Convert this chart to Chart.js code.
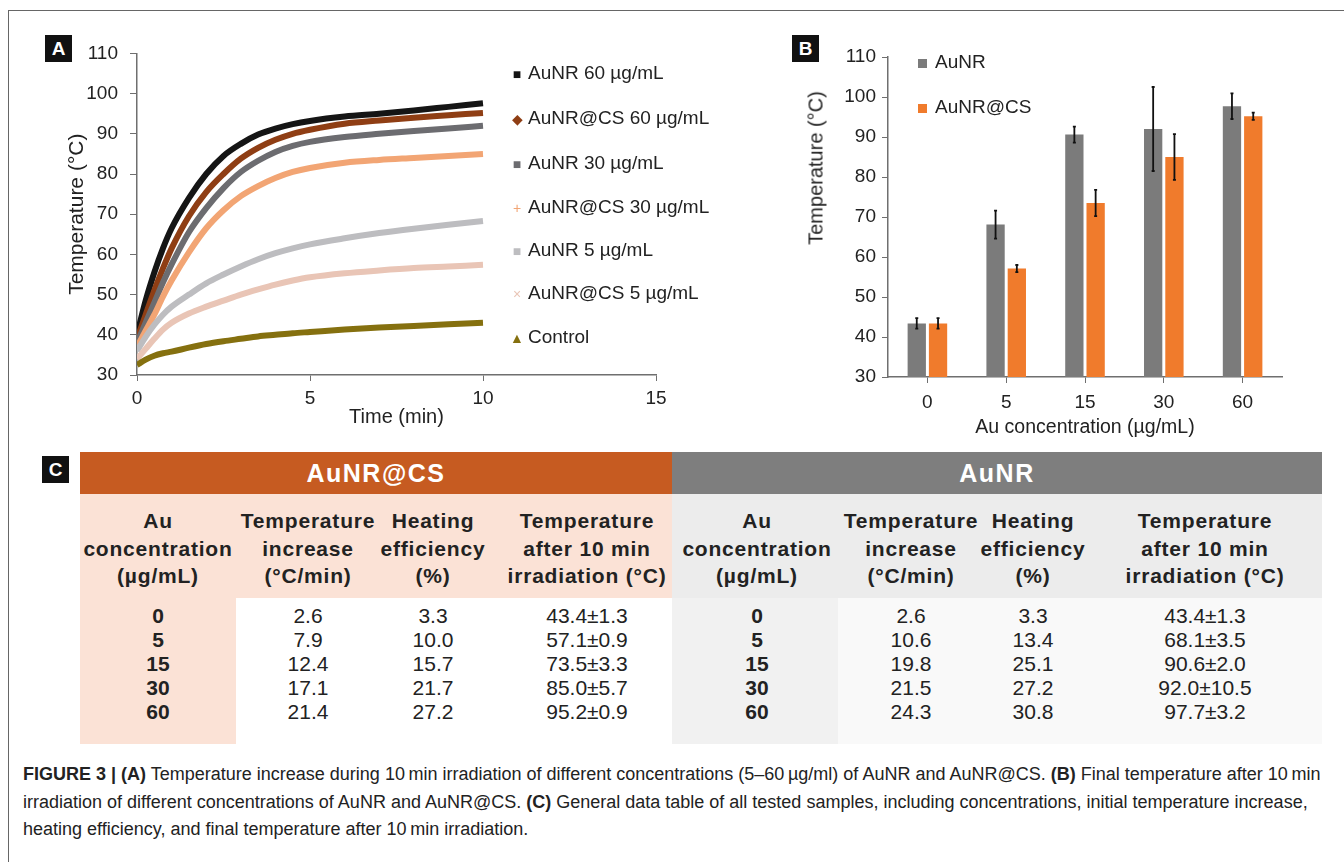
<!DOCTYPE html>
<html>
<head>
<meta charset="utf-8">
<script src="https://cdn.jsdelivr.net/npm/chart.js@4.4.0/dist/chart.umd.min.js"></script>
<style>
  body { margin: 0; background: #fff; font-family: 'Liberation Sans', Arial, sans-serif; color: #222; width: 1344px; height: 862px; overflow: hidden; position: relative; }
  .abs { position: absolute; }
  .frame { left: 8px; top: 10px; width: 1400px; height: 900px; border: 1px solid #666; }
  .tag { background: #111; color: #fff; font-weight: bold; font-size: 19px; width: 27px; height: 27px; line-height: 27px; text-align: center; }
  .leg { font-size: 19px; white-space: nowrap; line-height: 22px; }
  .mk { display: inline-block; width: 14px; text-align: center; margin-right: 4px; font-size: 14px; }
  .th { font-weight: bold; font-size: 21px; letter-spacing: 0.8px; line-height: 27.5px; text-align: center; width: 240px; white-space: nowrap; }
  .td { font-size: 21px; line-height: 24px; text-align: center; width: 200px; white-space: nowrap; }
  .bar { color: #fff; font-weight: bold; font-size: 25px; letter-spacing: 1.5px; line-height: 42px; text-align: center; }
  .cap { left: 23px; top: 761px; font-size: 18px; line-height: 27.5px; white-space: nowrap; color: #222; }
</style>
</head>
<body>
<div class="abs frame"></div>

<!-- panel A -->
<div class="abs tag" style="left:45px;top:35px;">A</div>
<canvas id="chartA" class="abs" style="left:20px;top:30px;" width="680" height="420"></canvas>
<div id="legendA"></div>

<!-- panel B -->
<div class="abs tag" style="left:792px;top:35px;">B</div>
<canvas id="chartB" class="abs" style="left:790px;top:30px;" width="530" height="430"></canvas>
<div class="abs" style="left:816px;top:168px;width:0;height:0;">
  <div style="position:absolute;transform:translate(-50%,-50%) rotate(-90deg);font-size:20px;white-space:nowrap;">Temperature (°C)</div>
</div>
<div class="abs leg" style="left:918px;top:51px;"><span style="display:inline-block;width:9px;height:9px;background:#7b7b7b;margin-right:8px;"></span>AuNR</div>
<div class="abs leg" style="left:918px;top:96px;"><span style="display:inline-block;width:9px;height:9px;background:#f07b2c;margin-right:8px;"></span>AuNR@CS</div>

<!-- panel C -->
<div class="abs tag" style="left:42px;top:456px;">C</div>
<div class="abs bar" style="left:80px;top:452px;width:592px;height:42px;background:#c65b21;">AuNR@CS</div>
<div class="abs bar" style="left:672px;top:452px;width:650px;height:42px;background:#7e7e7e;">AuNR</div>
<div class="abs" style="left:80px;top:494px;width:592px;height:104px;background:#fbe2d6;"></div>
<div class="abs" style="left:80px;top:598px;width:156px;height:146px;background:#fbe2d6;"></div>
<div class="abs" style="left:672px;top:494px;width:650px;height:104px;background:#ececec;"></div>
<div class="abs" style="left:672px;top:598px;width:166px;height:146px;background:#f1f1f1;"></div>
<div class="abs" style="left:838px;top:598px;width:484px;height:146px;background:#f9f9f9;"></div>
<div id="tableC"></div>

<div class="abs cap"><b>FIGURE 3 |</b> <b>(A)</b> Temperature increase during 10&#8201;min irradiation of different concentrations (5–60&#8201;µg/ml) of AuNR and AuNR@CS. <b>(B)</b> Final temperature after 10&#8201;min<br>irradiation of different concentrations of AuNR and AuNR@CS. <b>(C)</b> General data table of all tested samples, including concentrations, initial temperature increase,<br>heating efficiency, and final temperature after 10&#8201;min irradiation.</div>

<script>
// Time axis (min) for the heating curves
const times = [0, 0.25, 0.5, 0.75, 1, 1.5, 2, 2.5, 3, 3.5, 4, 4.5, 5, 6, 7, 8, 9, 10];

// Temperatures (°C)
const aunr60 = [40, 48.5, 55.5, 61.5, 66.5, 74, 80, 84.5, 87.5, 89.8, 91.3, 92.4, 93.2, 94.3, 95, 95.8, 96.7, 97.6];
const cs60 = [39, 45, 51, 56.5, 61.5, 69.5, 75.5, 80, 83.8, 86.5, 88.5, 90, 91, 92.5, 93.3, 94, 94.6, 95.2];
const aunr30 = [38, 43, 48, 53, 57.5, 65.5, 71.5, 76.5, 80.5, 83.3, 85.5, 87, 88, 89.2, 90, 90.7, 91.3, 92];
const cs30 = [37, 41, 45, 49.5, 53.5, 60.5, 66.5, 71, 74.5, 77, 79, 80.5, 81.5, 82.8, 83.5, 84, 84.5, 85];
const aunr5 = [36, 39.5, 42.5, 45, 47, 50, 52.8, 55, 57, 58.8, 60.3, 61.5, 62.5, 64, 65.3, 66.4, 67.4, 68.3];
const cs5 = [34, 36.5, 39, 41.3, 43, 45.3, 47, 48.5, 50, 51.3, 52.5, 53.5, 54.3, 55.3, 56, 56.6, 57, 57.4];
const control = [32.5, 33.8, 34.8, 35.4, 35.8, 36.8, 37.7, 38.4, 39, 39.6, 40, 40.4, 40.7, 41.3, 41.8, 42.2, 42.6, 43];

const curveLabels = ['AuNR 60 µg/mL', 'AuNR@CS 60 µg/mL', 'AuNR 30 µg/mL', 'AuNR@CS 30 µg/mL', 'AuNR 5 µg/mL', 'AuNR@CS 5 µg/mL', 'Control'];
const curveColors = ['#151515', '#8f3e14', '#6c6c70', '#f2a574', '#bdbdc0', '#e9c5b6', '#85700f'];
const curveMarks = ['■', '◆', '■', '+', '■', '×', '▲'];

// Panel B: final temperature after 10 min
const concentrations = ['0', '5', '15', '30', '60'];
const aunrFinal = [43.4, 68.1, 90.6, 92.0, 97.7];
const aunrErr = [1.3, 3.5, 2.0, 10.5, 3.2];
const csFinal = [43.4, 57.1, 73.5, 85.0, 95.2];
const csErr = [1.3, 0.9, 3.3, 5.7, 0.9];

// Panel C table values
const csRate = ['2.6', '7.9', '12.4', '17.1', '21.4'];
const csEff = ['3.3', '10.0', '15.7', '21.7', '27.2'];
const csText = ['43.4±1.3', '57.1±0.9', '73.5±3.3', '85.0±5.7', '95.2±0.9'];
const nrRate = ['2.6', '10.6', '19.8', '21.5', '24.3'];
const nrEff = ['3.3', '13.4', '25.1', '27.2', '30.8'];
const nrText = ['43.4±1.3', '68.1±3.5', '90.6±2.0', '92.0±10.5', '97.7±3.2'];

Chart.defaults.font.family = "'Liberation Sans', Arial, sans-serif";
Chart.defaults.color = '#222';

const axisColor = '#6f6f6f';

// ---- panel A ----
const seriesA = [aunr60, cs60, aunr30, cs30, aunr5, cs5, control];
const datasetsA = [];
// draw the light curves first so the dark ones sit on top
for (let i = seriesA.length - 1; i >= 0; i--) {
  datasetsA.push({
    label: curveLabels[i],
    data: times.map((t, k) => ({ x: t, y: seriesA[i][k] })),
    borderColor: curveColors[i],
    borderWidth: 6,
    pointRadius: 0,
    cubicInterpolationMode: 'monotone',
    fill: false,
  });
}

new Chart(document.getElementById('chartA'), {
  type: 'line',
  data: { datasets: datasetsA },
  options: {
    responsive: false,
    animation: false,
    layout: { padding: { left: 0, right: 44, top: 17, bottom: 0 } },
    plugins: { legend: { display: false }, tooltip: { enabled: false } },
    scales: {
      x: {
        type: 'linear', min: 0, max: 15,
        ticks: { stepSize: 5, font: { size: 19 }, padding: 6 },
        grid: { drawOnChartArea: false, tickLength: 6, color: axisColor },
        border: { color: axisColor, width: 1.5 },
        title: { display: true, text: 'Time (min)', font: { size: 20 }, padding: { top: 0, bottom: 21 } },
        afterFit: function (s) { s.height = 75; },
      },
      y: {
        min: 30, max: 110,
        ticks: { stepSize: 10, font: { size: 19 }, padding: 12 },
        grid: { drawOnChartArea: false, tickLength: 7, color: axisColor },
        border: { color: axisColor, width: 1.5 },
        title: { display: true, text: 'Temperature (°C)', font: { size: 21 }, padding: { top: 45, bottom: 0 } },
        afterFit: function (s) { s.width = 117; },
      },
    },
  },
});

// legend for panel A
const legendRows = [73, 118, 163, 207, 250, 293, 337];
let legHtml = '';
for (let i = 0; i < curveLabels.length; i++) {
  legHtml += '<div class="abs leg" style="left:510px;top:' + (legendRows[i] - 11) + 'px;">' +
    '<span class="mk" style="color:' + curveColors[i] + ';">' + curveMarks[i] + '</span>' + curveLabels[i] + '</div>';
}
document.getElementById('legendA').innerHTML = legHtml;

// ---- panel B ----
const errorLists = [aunrErr, csErr];
const errorBars = {
  id: 'errorBars',
  afterDatasetsDraw(chart) {
    const ctx = chart.ctx;
    const yScale = chart.scales.y;
    chart.data.datasets.forEach((ds, i) => {
      chart.getDatasetMeta(i).data.forEach((bar, j) => {
        const v = ds.data[j];
        const e = errorLists[i][j];
        const top = yScale.getPixelForValue(v + e);
        const bot = yScale.getPixelForValue(v - e);
        ctx.save();
        ctx.strokeStyle = '#111';
        ctx.lineWidth = 1.8;
        ctx.beginPath();
        ctx.moveTo(bar.x, top);
        ctx.lineTo(bar.x, bot);
        ctx.moveTo(bar.x - 1.5, top);
        ctx.lineTo(bar.x + 1.5, top);
        ctx.moveTo(bar.x - 1.5, bot);
        ctx.lineTo(bar.x + 1.5, bot);
        ctx.stroke();
        ctx.restore();
      });
    });
  },
};

new Chart(document.getElementById('chartB'), {
  type: 'bar',
  data: {
    labels: concentrations,
    datasets: [
      { label: 'AuNR', data: aunrFinal, backgroundColor: '#7b7b7b', categoryPercentage: 0.54, barPercentage: 0.86 },
      { label: 'AuNR@CS', data: csFinal, backgroundColor: '#f07b2c', categoryPercentage: 0.54, barPercentage: 0.86 },
    ],
  },
  options: {
    responsive: false,
    animation: false,
    layout: { padding: { left: 0, right: 38, top: 27, bottom: 0 } },
    plugins: { legend: { display: false }, tooltip: { enabled: false } },
    scales: {
      x: {
        ticks: { font: { size: 19 }, padding: 8 },
        grid: { drawOnChartArea: false, offset: false, tickLength: 6, color: axisColor },
        border: { color: axisColor, width: 1.5 },
        title: { display: true, text: 'Au concentration (µg/mL)', font: { size: 19.5 }, padding: { top: 0, bottom: 21 } },
        afterFit: function (s) { s.height = 83; },
      },
      y: {
        min: 30, max: 110,
        ticks: { stepSize: 10, font: { size: 19 }, padding: 6 },
        grid: { drawOnChartArea: false, tickLength: 6, color: axisColor },
        border: { color: axisColor, width: 1.5 },
        afterFit: function (s) { s.width = 98; },
      },
    },
  },
  plugins: [errorBars],
});

// ---- panel C table ----
const headLines = ['Au<br>concentration<br>(µg/mL)', 'Temperature<br>increase<br>(°C/min)', 'Heating<br>efficiency<br>(%)', 'Temperature<br>after 10 min<br>irradiation (°C)'];
const leftCols = [158, 308, 433, 587];
const rightCols = [757, 911, 1033, 1205];

function buildTable(cols, rate, eff, txt) {
  let html = '';
  cols.forEach((cx, c) => {
    html += '<div class="abs th" style="left:' + (cx - 120) + 'px;top:507px;">' + headLines[c] + '</div>';
  });
  const columns = [concentrations, rate, eff, txt];
  for (let r = 0; r < concentrations.length; r++) {
    for (let c = 0; c < 4; c++) {
      const bold = c === 0 ? 'font-weight:bold;' : '';
      html += '<div class="abs td" style="' + bold + 'left:' + (cols[c] - 100) + 'px;top:' + (604 + r * 24) + 'px;">' + columns[c][r] + '</div>';
    }
  }
  return html;
}
document.getElementById('tableC').innerHTML =
  buildTable(leftCols, csRate, csEff, csText) + buildTable(rightCols, nrRate, nrEff, nrText);
</script>
</body>
</html>
